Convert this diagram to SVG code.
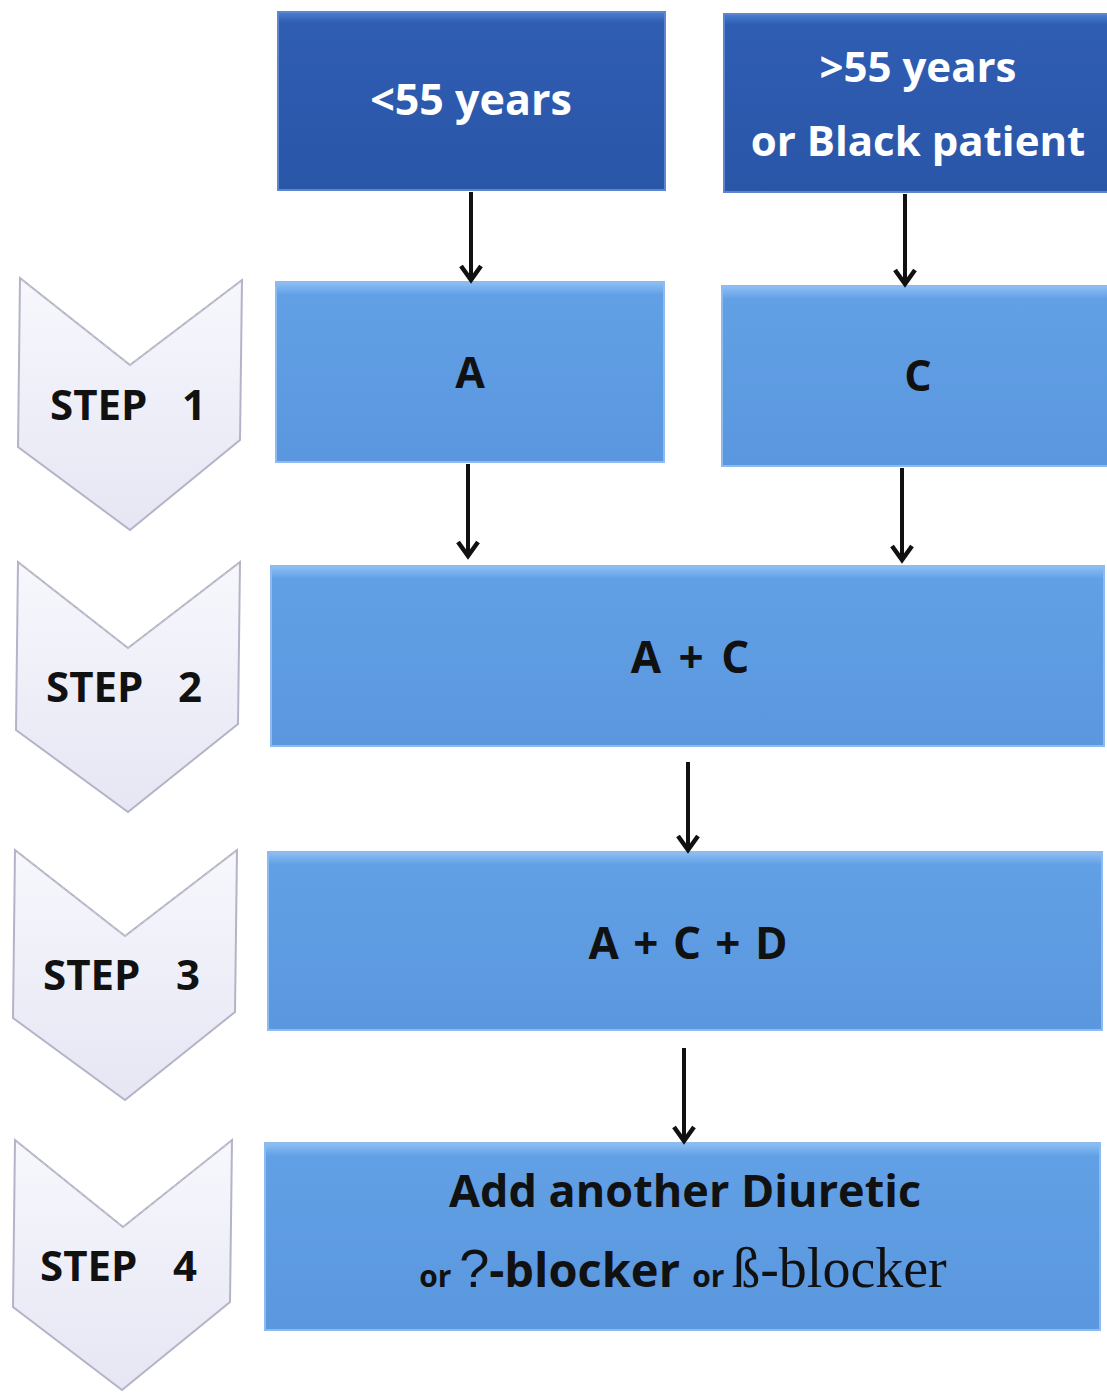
<svg xmlns="http://www.w3.org/2000/svg" width="1107" height="1393" viewBox="0 0 1107 1393">
<style>
.dark{fill:url(#gDark);stroke:#5d86cf;stroke-width:2}
.light{fill:url(#gLight);stroke:#8dbbef;stroke-width:2}
.chev{fill:url(#gChev);stroke:#b4b4c8;stroke-width:2}
.notch{fill:none;stroke:#c4c4cc;stroke-width:1.5;stroke-dasharray:4 4}
.wt{font-family:"Open Sans","Liberation Sans",sans-serif;font-weight:bold;fill:#ffffff;text-anchor:middle}
.bt{font-family:"Open Sans","Liberation Sans",sans-serif;font-weight:bold;fill:#111111;text-anchor:middle}
.st{font-family:"Open Sans","Liberation Sans",sans-serif;font-weight:bold;fill:#111111;font-size:42px}
.conn{stroke:#111;stroke-width:4;fill:none;marker-end:url(#ah)}
</style>
<defs>
<linearGradient id="gDark" x1="0" y1="0" x2="0" y2="1">
<stop offset="0" stop-color="#4a7fd0"/><stop offset="0.06" stop-color="#2f5db2"/><stop offset="1" stop-color="#2a56a8"/>
</linearGradient>
<linearGradient id="gLight" x1="0" y1="0" x2="0" y2="1">
<stop offset="0" stop-color="#8ec0f3"/><stop offset="0.07" stop-color="#62a0e6"/><stop offset="1" stop-color="#5a97de"/>
</linearGradient>
<linearGradient id="gChev" x1="0" y1="0" x2="0" y2="1">
<stop offset="0" stop-color="#f7f7fd"/><stop offset="1" stop-color="#e6e6f4"/>
</linearGradient>
<marker id="ah" markerWidth="20" markerHeight="26" refX="16" refY="12" orient="auto" markerUnits="userSpaceOnUse" viewBox="0 0 20 24" overflow="visible">
<path d="M2,2 L16,12 L2,22" fill="none" stroke="#111" stroke-width="4.5"/>
</marker>
</defs>

<g id="step1">
<path class="chev" d="M20,278 L130,365 L242,280 L240,440 L130,530 L18,447 Z"/>
<path class="notch" d="M22,280 L130,365 L240,282"/>
<text class="st" x="50" y="420">STEP</text><text class="st" x="182" y="420">1</text>
</g>
<g id="step2">
<path class="chev" d="M18,562 L128,648 L240,562 L238,724 L128,812 L16,730 Z"/>
<path class="notch" d="M20,564 L128,648 L238,564"/>
<text class="st" x="46" y="702">STEP</text><text class="st" x="178" y="702">2</text>
</g>
<g id="step3">
<path class="chev" d="M15,850 L125,936 L237,850 L235,1012 L125,1100 L13,1018 Z"/>
<path class="notch" d="M17,852 L125,936 L235,852"/>
<text class="st" x="43" y="990">STEP</text><text class="st" x="176" y="990">3</text>
</g>
<g id="step4">
<path class="chev" d="M15,1140 L123,1227 L232,1140 L230,1302 L122,1390 L13,1307 Z"/>
<path class="notch" d="M17,1142 L123,1227 L230,1142"/>
<text class="st" x="40" y="1281">STEP</text><text class="st" x="173" y="1281">4</text>
</g>

<g id="young">
<rect class="dark" x="278" y="12" width="387" height="178"/>
<text class="wt" x="471" y="115" font-size="43">&lt;55 years</text>
</g>
<g id="old">
<rect class="dark" x="724" y="14" width="390" height="178"/>
<text class="wt" x="918" y="82" font-size="42">&gt;55 years</text>
<text class="wt" x="918" y="156" font-size="42">or Black patient</text>
</g>
<g id="a">
<rect class="light" x="276" y="282" width="388" height="180"/>
<text class="bt" x="470" y="388" font-size="43">A</text>
</g>
<g id="c">
<rect class="light" x="722" y="286" width="390" height="180"/>
<text class="bt" x="918" y="391" font-size="43">C</text>
</g>
<g id="ac">
<rect class="light" x="271" y="566" width="833" height="180"/>
<text class="bt" x="690" y="673" font-size="44" word-spacing="6">A + C</text>
</g>
<g id="acd">
<rect class="light" x="268" y="852" width="834" height="178"/>
<text class="bt" x="688" y="959" font-size="44" word-spacing="3">A + C + D</text>
</g>
<g id="add">
<rect class="light" x="265" y="1143" width="835" height="187"/>
<text class="bt" x="685" y="1207" font-size="45">Add another Diuretic</text>
<text x="683" y="1287" text-anchor="middle" fill="#111"><tspan font-family="Open Sans,Liberation Sans,sans-serif" font-weight="bold" font-size="30">or  </tspan><tspan font-family="Liberation Sans,sans-serif" font-size="54">?</tspan><tspan font-family="Open Sans,Liberation Sans,sans-serif" font-weight="bold" font-size="47">-blocker </tspan><tspan font-family="Open Sans,Liberation Sans,sans-serif" font-weight="bold" font-size="30">or </tspan><tspan font-family="Liberation Serif,serif" font-size="56">ß-blocker</tspan></text>
</g>

<g id="connectors">
<line class="conn" x1="471" y1="192" x2="471" y2="280"/>
<line class="conn" x1="905" y1="194" x2="905" y2="284"/>
<line class="conn" x1="468" y1="464" x2="468" y2="556"/>
<line class="conn" x1="902" y1="468" x2="902" y2="560"/>
<line class="conn" x1="688" y1="762" x2="688" y2="850"/>
<line class="conn" x1="684" y1="1048" x2="684" y2="1141"/>
</g>
</svg>
